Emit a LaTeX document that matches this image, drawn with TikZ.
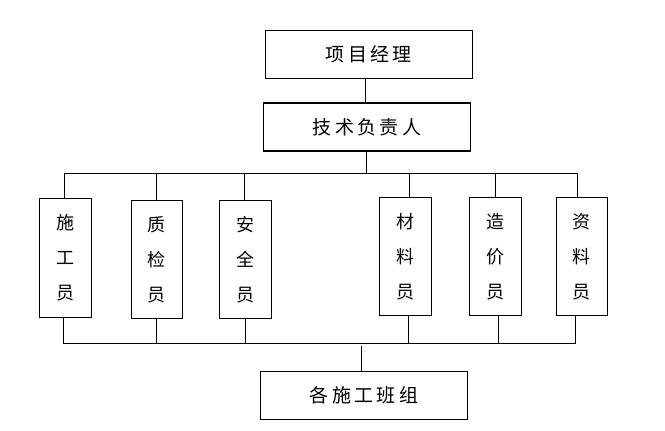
\documentclass[tikz,border=0pt]{standalone}
\usepackage{fontspec}
\usepackage{tikz}
\usetikzlibrary{positioning}
\newfontfamily\cjk[LetterSpace=18]{Noto Sans CJK SC}
\newfontfamily\cjkv{Noto Sans CJK SC}

\tikzset{
  hbox/.style={draw,line width=1.1pt,inner sep=0pt,minimum width=207pt,minimum height=48pt,font=\cjk\fontsize{19}{22}\selectfont},
  vbox/.style={draw,line width=1.1pt,inner sep=0pt,minimum width=52pt,minimum height=118pt,align=center,font=\cjkv\fontsize{18}{35}\selectfont},
  link/.style={line width=1pt}
}

\begin{document}
\begin{tikzpicture}[x=1pt,y=-1pt]
\useasboundingbox (0,0) rectangle (665,431);
% top two levels
\node[hbox] (pm) at (368.8,54.3) {项目经理};
\node[hbox] (tech) at (367,127) {技术负责人};
% staff
\node[vbox,minimum height=119pt] (sg) at (65.3,257.8) {施\\工\\员};
\node[vbox,minimum width=51pt] (zj) at (156.8,259.3) {质\\检\\员};
\node[vbox,minimum width=51.7pt] (aq) at (245.2,259.3) {安\\全\\员};
\node[vbox] (cl) at (405.3,256.3) {材\\料\\员};
\node[vbox] (zy) at (495.3,256.3) {造\\价\\员};
\node[vbox,minimum width=51.3pt] (zl) at (581.7,256.3) {资\\料\\员};
% teams
\node[hbox] (team) at (364,395.7) {各施工班组};

\coordinate (tl) at (64.3,173.3);
\coordinate (tr) at (578,173.3);
\coordinate (bl) at (63.3,343.3);
\coordinate (br) at (576,343.3);

\draw[link] (pm.south -| 365.5,0) -- (tech.north -| 365.5,0);
\draw[link] (tech.south -| 366.3,0) -- (366.3,173.3);
\draw[link] (tl) -- (tr);
\draw[link] (bl) -- (br);
% x of each drop, above and below
\foreach \n/\tx/\bx in {sg/64.3/63.3,zj/156.3/156.3,aq/244/245,cl/409.7/408.3,zy/495.3/498.3,zl/577.3/575}{
  \draw[link] (\n.north -| \tx,0) -- (\tx,173.3);
  \draw[link] (\n.south -| \bx,0) -- (\bx,343.3);
}
\draw[link] (team.north -| 361.3,0) -- (361.3,346);
\end{tikzpicture}
\end{document}
